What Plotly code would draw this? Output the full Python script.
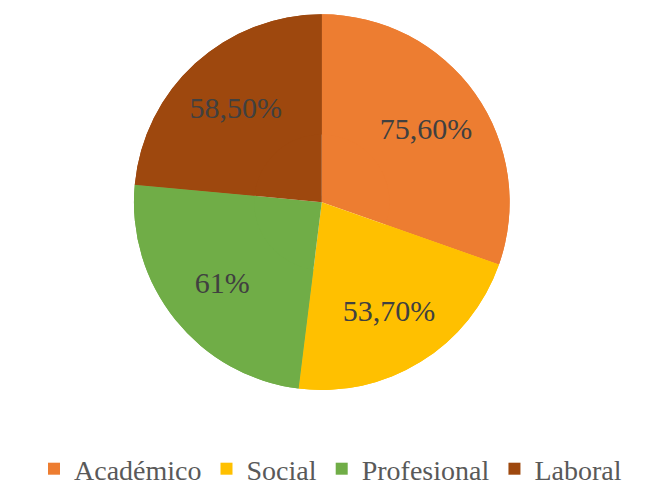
import plotly.graph_objects as go

categories = ["Académico", "Social", "Profesional", "Laboral"]
values = [75.6, 53.7, 61.0, 58.5]
value_labels = ["75,60%", "53,70%", "61%", "58,50%"]
colors = ["#ED7D31", "#FFC000", "#70AD47", "#9E480E"]

dom = dict(x=[0.195, 0.778], y=[0.214, 0.987])

common = dict(
    labels=categories,
    values=values,
    sort=False,
    direction="clockwise",
    rotation=0,
    marker=dict(colors=colors, line=dict(color="white", width=0)),
    domain=dom,
)

fig = go.Figure()
# Base full pie (fills centre)
fig.add_trace(go.Pie(**common, textinfo="none", hoverinfo="skip", showlegend=True))
# Ring overlay carrying the labels further out, like the reference
fig.add_trace(go.Pie(
    **common,
    hole=0.36,
    text=value_labels,
    textinfo="text",
    hoverinfo="label+text",
    textposition="inside",
    insidetextorientation="horizontal",
    textfont=dict(family="Liberation Serif", size=30, color="#404040"),
    showlegend=False,
))

fig.update_layout(
    width=645, height=486,
    margin=dict(l=0, r=0, t=0, b=0),
    paper_bgcolor="white",
    plot_bgcolor="white",
    showlegend=True,
    legend=dict(
        orientation="h",
        x=0.5, xanchor="center",
        y=0.0, yanchor="bottom",
        font=dict(family="Liberation Serif", size=28, color="#595959"),
        traceorder="normal",
    ),
)

fig.write_html("out.html")
